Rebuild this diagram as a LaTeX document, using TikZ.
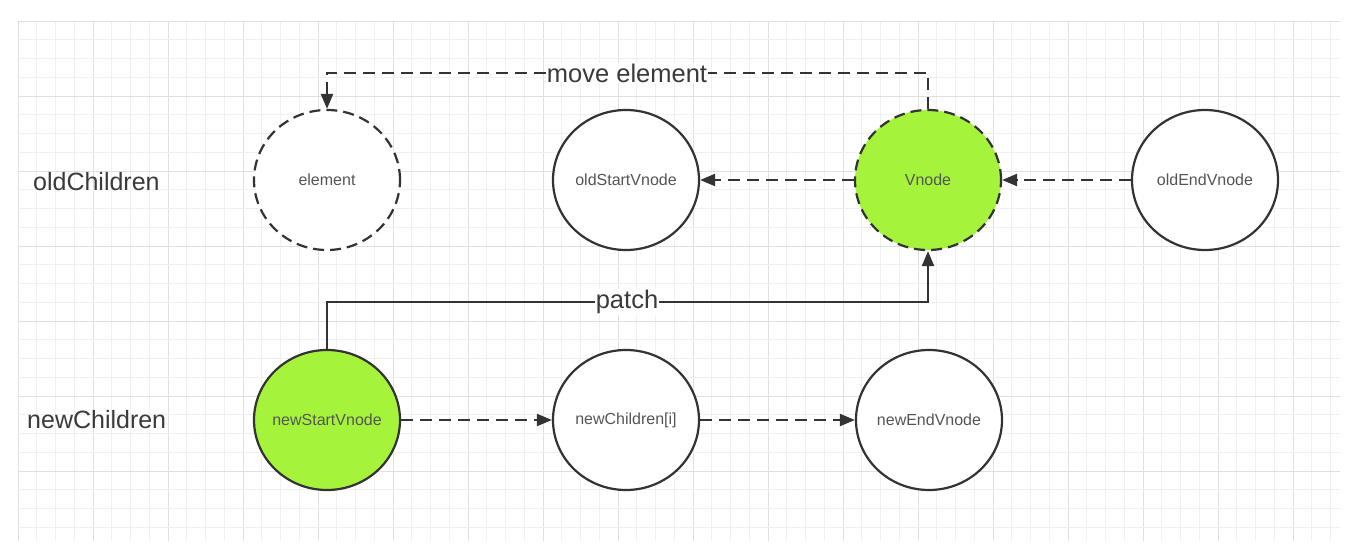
\documentclass[tikz,border=0pt]{standalone}
\usepackage{fontspec}
\setmainfont{Liberation Sans}
\usetikzlibrary{arrows.meta,shapes.geometric}
\definecolor{linec}{HTML}{333333}
\definecolor{txtc}{HTML}{555555}
\definecolor{lblc}{HTML}{3A3A3A}
\definecolor{greenc}{HTML}{A6F33C}
\definecolor{gridminor}{HTML}{F0F0F0}
\definecolor{gridmajor}{HTML}{E0E0E0}
\tikzset{
  vn/.style={ellipse, draw=linec, line width=2.2pt, minimum width=146pt, minimum height=140pt,
    inner xsep=-20pt, inner ysep=0pt, fill=white, text=txtc, font=\fontsize{16}{18}\selectfont},
  vnhl/.style={vn, fill=greenc},
  vndash/.style={dash pattern=on 11pt off 6pt},
  rowlabel/.style={text=lblc, font=\fontsize{25}{28}\selectfont, anchor=west, inner sep=0pt},
  edgelabel/.style={text=lblc, font=\fontsize{25.5}{28}\selectfont, fill=white, inner sep=1pt},
  conn/.style={draw=linec, line width=2.2pt, -{Triangle[length=15pt,width=12pt]}},
  dconn/.style={conn, dash pattern=on 12pt off 7pt}
}
\begin{document}
\begin{tikzpicture}[x=1pt,y=-1pt]
\useasboundingbox (0,0) rectangle (1345,548);
\fill[white] (0,0) rectangle (1345,548);
% grid
\foreach \i in {0,...,70} {
  \pgfmathtruncatemacro{\m}{mod(\i,4)}
  \ifnum\m=0 \def\gc{gridmajor}\else\def\gc{gridminor}\fi
  \draw[\gc, line width=0.8pt] ({18+18.75*\i},21) -- ({18+18.75*\i},541);
}
\foreach \j in {0,...,27} {
  \pgfmathtruncatemacro{\m}{mod(\j,4)}
  \ifnum\m=0 \def\gc{gridmajor}\else\def\gc{gridminor}\fi
  \draw[\gc, line width=0.8pt] (18,{21+18.75*\j}) -- (1340,{21+18.75*\j});
}
% row labels
\node[rowlabel] (oldlbl) at (33,182) {oldChildren};
\node[rowlabel] (newlbl) at (27,420) {newChildren};
% nodes
\node[vn, vndash] (elem) at (327,180) {element};
\node[vn] (oldstart) at (626,180) {oldStartVnode};
\node[vnhl, vndash] (vnode) at (928,180) {Vnode};
\node[vn] (oldend) at (1205,180) {oldEndVnode};
\node[vnhl] (newstart) at (327,420) {newStartVnode};
\node[vn] (newi) at (626,420) {newChildren[i]};
\node[vn] (newend) at (929,420) {newEndVnode};
% connectors
\coordinate (mvA) at (928,73);
\coordinate (mvB) at (327,73);
\draw[dconn] (vnode.north) -- (mvA) -- (mvB) -- (elem.north);
\node[edgelabel] (mvlbl) at (627,73) {move element};
\coordinate (ptA) at (327,302);
\coordinate (ptB) at (928,302);
\draw[conn] (newstart.north) -- (ptA) -- (ptB) -- (vnode.south);
\node[edgelabel] (ptlbl) at (627,302) {patch};
\draw[dconn] (vnode.west) -- (oldstart.east);
\draw[dconn] (oldend.west) -- (vnode.east);
\draw[dconn] (newstart.east) -- (newi.west);
\draw[dconn] (newi.east) -- (newend.west);
\end{tikzpicture}
\end{document}
